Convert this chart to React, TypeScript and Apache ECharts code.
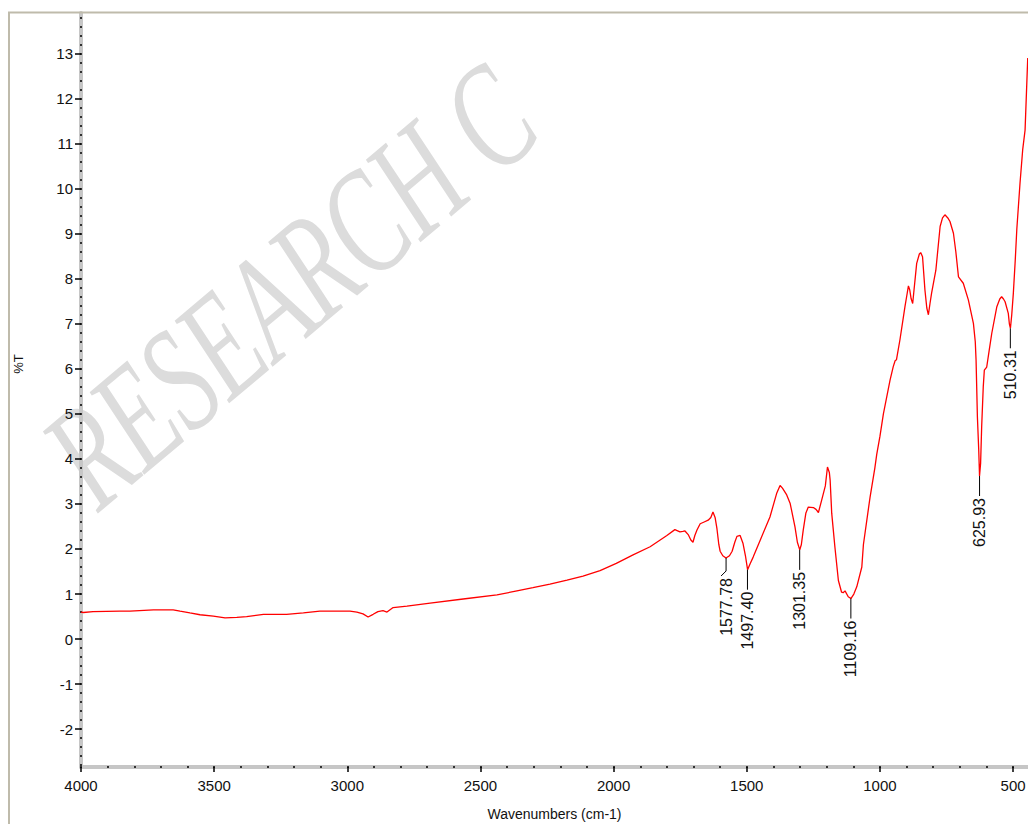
import React, { useEffect, useRef } from "react";
import * as echarts from "echarts";

const wavenumbers = [
  4000, 3991, 3955, 3854, 3816, 3728, 3654, 3628, 3591, 3553, 3503, 3459, 3415, 3378, 3315, 3228, 3165, 3103, 3040,
  3016, 2990, 2964, 2941, 2922, 2903, 2885, 2866, 2851, 2828, 2776, 2689, 2565, 2438, 2363, 2303, 2239, 2175, 2115,
  2051, 1990, 1927, 1863, 1800, 1770, 1751, 1740, 1732, 1720, 1710, 1702, 1695, 1687, 1675, 1660, 1645, 1635, 1627,
  1619, 1612, 1605, 1600, 1590, 1578, 1565, 1555, 1545, 1537, 1525, 1514, 1505, 1497, 1487, 1476, 1450, 1413, 1388,
  1375, 1366, 1350, 1337, 1319, 1310, 1301, 1295, 1288, 1278, 1269, 1250, 1240, 1231, 1219, 1205, 1197, 1190, 1187,
  1181, 1169, 1156, 1144, 1138, 1131, 1119, 1109, 1098, 1087, 1068, 1062, 1043, 1037, 1019, 1012, 1000, 987, 962,
  950, 943, 938, 925, 906, 897, 893, 888, 883, 877, 872, 862, 852, 847, 840, 831, 824, 818, 812, 806, 790, 774, 765,
  756, 745, 737, 724, 715, 705, 687, 668, 649, 642, 639, 634, 629, 626, 622, 618, 612, 608, 599, 590, 580, 561, 550,
  543, 536, 530, 518, 514, 510, 505, 499, 492, 486, 474, 464, 455, 445,
];

const transmittance = [
  0.6, 0.59, 0.61, 0.62, 0.62, 0.65, 0.65, 0.62, 0.58, 0.54, 0.51, 0.47, 0.48, 0.5, 0.55, 0.55, 0.58, 0.62, 0.62,
  0.62, 0.62, 0.6, 0.56, 0.49, 0.55, 0.61, 0.63, 0.6, 0.7, 0.73, 0.8, 0.89, 0.98, 1.07, 1.14, 1.22, 1.31, 1.4,
  1.52, 1.68, 1.87, 2.05, 2.3, 2.43, 2.38, 2.39, 2.4, 2.32, 2.2, 2.15, 2.3, 2.42, 2.56, 2.6, 2.64, 2.7, 2.82,
  2.7, 2.45, 2.1, 1.95, 1.85, 1.8, 1.85, 1.95, 2.15, 2.28, 2.3, 2.12, 1.85, 1.54, 1.68, 1.82, 2.19, 2.71, 3.23,
  3.41, 3.35, 3.2, 3.01, 2.49, 2.15, 1.98, 2.1, 2.42, 2.8, 2.93, 2.92, 2.88, 2.81, 3.08, 3.4, 3.82, 3.7, 3.53,
  2.79, 2.04, 1.3, 1.04, 1.03, 1.07, 0.94, 0.9, 1.0, 1.16, 1.6, 2.1, 2.9, 3.15, 3.8, 4.1, 4.5, 5.0, 5.75,
  6.05, 6.18, 6.2, 6.64, 7.38, 7.7, 7.84, 7.75, 7.56, 7.45, 7.75, 8.34, 8.55, 8.58, 8.49, 7.75, 7.35, 7.2, 7.45, 7.68, 8.19, 9.16, 9.35,
  9.42, 9.35, 9.27, 9.01, 8.6, 8.04, 7.9, 7.53, 7.01, 6.6, 6.19, 4.93, 4.2, 3.62, 3.9, 4.71, 5.6, 5.97, 6.04, 6.4, 6.79, 7.38, 7.55,
  7.6, 7.55, 7.49, 7.23, 7.0, 6.9, 7.2, 7.68, 8.4, 9.1, 10.12, 10.86, 11.3, 12.9,
];

const peakWavenumbers = [1577.78, 1497.4, 1301.35, 1109.16, 625.93, 510.31];
const peakValues = [1.8, 1.54, 1.98, 0.9, 3.62, 6.9];
const peakLabels = ["1577.78", "1497.40", "1301.35", "1109.16", "625.93", "510.31"];

const xMajorTicks = [4000, 3500, 3000, 2500, 2000, 1500, 1000, 500];
const yMajorTicks = [-2, -1, 0, 1, 2, 3, 4, 5, 6, 7, 8, 9, 10, 11, 12, 13];

const X_MIN = 444;
const X_MAX = 4000;
const Y_MIN = -2.84;
const Y_MAX = 13.9;

const xMinorTicks: number[] = [];
for (let v = 500; v <= 4000; v += 100) xMinorTicks.push(v);
const yMinorTicks: number[] = [];
for (let k = -14; k <= 69; k++) yMinorTicks.push(Math.round(k * 2) / 10);

const FONT = "'Liberation Sans', Arial, sans-serif";
const AXIS_GRAY = "#c6c6c6";

export default function App() {
  const ref = useRef<HTMLDivElement>(null);

  useEffect(() => {
    if (!ref.current) return;
    const chart = echarts.init(ref.current, undefined, { renderer: "svg" });

    const lineData = wavenumbers.map((w, i) => [w, transmittance[i]]);
    const peakData = peakWavenumbers.map((w, i) => [w, peakValues[i]]);

    const option: any = {
      animation: false,
      backgroundColor: "#ffffff",
      grid: { left: 81, top: 13, right: 0, bottom: 57, containLabel: false, outerBoundsMode: "none" },
      xAxis: [
        {
          type: "value",
          inverse: true,
          min: X_MIN,
          max: X_MAX,
          position: "bottom",
          axisLine: { show: true, onZero: false, lineStyle: { color: AXIS_GRAY, width: 4 } },
          axisTick: { show: true, customValues: xMajorTicks, length: 5, lineStyle: { color: "#000", width: 1.5 } },
          axisLabel: {
            show: true,
            customValues: xMajorTicks,
            margin: 11,
            fontSize: 15,
            color: "#111",
            fontFamily: FONT,
            formatter: (v: number) => String(v),
          },
          splitLine: { show: false },
          name: "Wavenumbers (cm-1)",
          nameLocation: "middle",
          nameGap: 40,
          nameTextStyle: { fontSize: 14, color: "#111", fontFamily: FONT },
        },
        {
          type: "value",
          inverse: true,
          min: X_MIN,
          max: X_MAX,
          position: "bottom",
          offset: -1,
          axisLine: { show: false, onZero: false },
          axisTick: { show: true, customValues: xMinorTicks, length: 2, lineStyle: { color: "#000", width: 1.5 } },
          axisLabel: { show: false },
          splitLine: { show: false },
        },
      ],
      yAxis: [
        {
          type: "value",
          min: Y_MIN,
          max: Y_MAX,
          position: "left",
          axisLine: { show: true, onZero: false, lineStyle: { color: AXIS_GRAY, width: 4 } },
          axisTick: { show: true, customValues: yMajorTicks, length: 6, lineStyle: { color: "#000", width: 1.5 } },
          axisLabel: {
            show: true,
            customValues: yMajorTicks,
            margin: 8,
            fontSize: 15,
            color: "#111",
            fontFamily: FONT,
          },
          splitLine: { show: false },
        },
        {
          type: "value",
          min: Y_MIN,
          max: Y_MAX,
          position: "left",
          offset: -1,
          axisLine: { show: false, onZero: false },
          axisTick: { show: true, customValues: yMinorTicks, length: 2, lineStyle: { color: "#000", width: 1.5 } },
          axisLabel: { show: false },
          splitLine: { show: false },
        },
      ],
      graphic: {
        elements: [
          {
            type: "text",
            x: 114,
            y: 532,
            rotation: 0.7,
            scaleY: 1.5,
            z: -1,
            silent: true,
            style: {
              text: "RESEARCH C",
              fontStyle: "italic",
              fontSize: 100,
              fontFamily: "'Liberation Serif', 'DejaVu Serif', serif",
              fill: "#dcdcdc",
              align: "left",
              verticalAlign: "bottom",
            },
          },
          {
            type: "rect",
            z: 10,
            silent: true,
            shape: { x: 9, y: 12.5, width: 1200, height: 1000 },
            style: { fill: "none", stroke: "#bfbbab", lineWidth: 2 },
          },
          {
            type: "text",
            x: 18,
            y: 364,
            rotation: Math.PI / 2,
            z: 10,
            style: {
              text: "%T",
              fontSize: 13,
              fontFamily: FONT,
              fill: "#111",
              align: "center",
              verticalAlign: "middle",
            },
          },
        ],
      },
      series: [
        {
          type: "line",
          name: "%T",
          xAxisIndex: 0,
          yAxisIndex: 0,
          data: lineData,
          showSymbol: false,
          symbol: "none",
          z: 3,
          lineStyle: { color: "#ff0000", width: 1.3 },
        },
        {
          type: "custom",
          name: "peaks",
          xAxisIndex: 0,
          yAxisIndex: 0,
          z: 4,
          data: peakData,
          renderItem: (params: any, api: any) => {
            const p = api.coord([api.value(0), api.value(1)]);
            const label = peakLabels[params.dataIndex];
            const kink = label === "1577.78";
            const pts = kink
              ? [
                  [p[0], p[1]],
                  [p[0], p[1] + 13],
                  [p[0] - 5, p[1] + 18],
                ]
              : [
                  [p[0], p[1]],
                  [p[0], p[1] + 20],
                ];
            const textY = p[1] + (kink ? 20 : 22);
            return {
              type: "group",
              children: [
                {
                  type: "polyline",
                  shape: { points: pts },
                  style: { stroke: "#000", lineWidth: 1, fill: null },
                },
                {
                  type: "text",
                  x: p[0],
                  y: textY,
                  rotation: Math.PI / 2,
                  style: {
                    text: label,
                    fontSize: 16,
                    fontFamily: FONT,
                    fill: "#111",
                    align: "right",
                    verticalAlign: "middle",
                  },
                },
              ],
            };
          },
        },
      ],
    };

    chart.setOption(option);
    return () => chart.dispose();
  }, []);

  return (
    <div
      ref={ref}
      style={{ position: "absolute", left: 0, top: 0, width: 1028, height: 824, background: "#fff" }}
    />
  );
}
